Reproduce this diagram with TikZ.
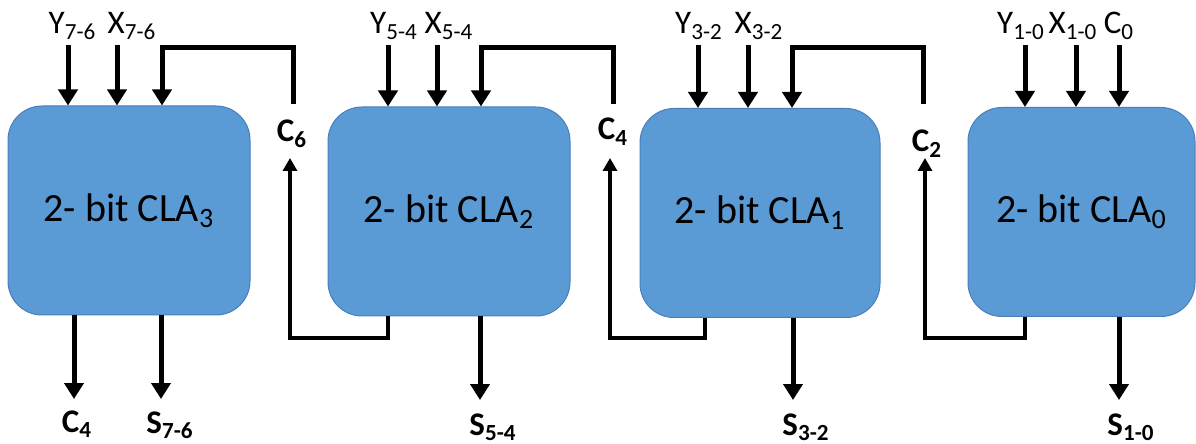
\documentclass[tikz,border=0pt]{standalone}
\usepackage{fontspec}
\setmainfont{Carlito}
\usetikzlibrary{arrows.meta,calc}
\definecolor{clablue}{HTML}{5B9BD5}
\definecolor{claedge}{HTML}{4A7EBB}
\begin{document}
\begin{tikzpicture}[x=0.5pt,y=-0.5pt,
  cla/.style={draw=claedge, fill=clablue, line width=0.5pt, rounded corners=17pt,
    minimum height=104.5pt, inner sep=0pt, font=\fontsize{20}{24}\selectfont},
  lab/.style={inner sep=0pt, anchor=base, font=\fontsize{16.5}{19}\selectfont},
  blab/.style={inner sep=0pt, anchor=base, font=\bfseries\fontsize{16.5}{19}\selectfont},
  arr/.style={line width=2.5pt, -{Triangle[width=9.5pt,length=8pt]}},
  loopwire/.style={line width=1.8pt, -{Triangle[width=7pt,length=6.5pt]}},
]
\useasboundingbox (0,0) rectangle (1196,444);

% blocks
\node[cla, minimum width=121pt]   (b3) at (129,210.5)  {2- bit CLA\textsubscript{3}};
\node[cla, minimum width=121pt]   (b2) at (449,211.5)  {2- bit CLA\textsubscript{2}};
\node[cla, minimum width=120pt]   (b1) at (760,213)    {2- bit CLA\textsubscript{1}};
\node[cla, minimum width=113.5pt] (b0) at (1081.5,212) {2- bit CLA\textsubscript{0}};

% top input labels
\node[lab] (ly3) at (72.5,34) {Y\textsubscript{7-6}};
\node[lab] (lx3) at (132,34)  {X\textsubscript{7-6}};
\node[lab] (ly2) at (394,34)  {Y\textsubscript{5-4}};
\node[lab] (lx2) at (449,34)  {X\textsubscript{5-4}};
\node[lab] (ly1) at (699,34)  {Y\textsubscript{3-2}};
\node[lab] (lx1) at (759,34)  {X\textsubscript{3-2}};
\node[lab] (ly0) at (1021,34) {Y\textsubscript{1-0}};
\node[lab] (lx0) at (1073,34) {X\textsubscript{1-0}};
\node[lab] (lc0) at (1119,34) {C\textsubscript{0}};

% input arrow starts
\coordinate (ty3) at (68,45);   \coordinate (tx3) at (117,45);
\coordinate (ty2) at (388,45);  \coordinate (tx2) at (437,45);
\coordinate (ty1) at (698,45);  \coordinate (tx1) at (748,45);
\coordinate (ty0) at (1025,45); \coordinate (tx0) at (1076,45); \coordinate (tc0) at (1119,45);

\foreach \t/\b in {ty3/b3,tx3/b3,ty2/b2,tx2/b2,ty1/b1,tx1/b1,ty0/b0,tx0/b0,tc0/b0}
  \draw[arr] (\t) -- (\t |- \b.north);

% carry labels between blocks
\node[blab] (c6) at (292,142) {C\textsubscript{6}};
\node[blab] (c4m) at (613,140) {C\textsubscript{4}};
\node[blab] (c2) at (927,152) {C\textsubscript{2}};

% carry feedback into top of block
\coordinate (c6t) at (293,104); \coordinate (f3) at (162,48);
\coordinate (c4t) at (613,104); \coordinate (f2) at (481,48);
\coordinate (c2t) at (923,104); \coordinate (f1) at (792,48);
\draw[arr] (c6t) |- (f3) -- (f3 |- b3.north);
\draw[arr] (c4t) |- (f2) -- (f2 |- b2.north);
\draw[arr] (c2t) |- (f1) -- (f1 |- b1.north);

% carry out of block, looping back up to carry label
\coordinate (c6b) at (290,158); \coordinate (l2) at (388,338);
\coordinate (c4b) at (610,158); \coordinate (l1) at (705,338);
\coordinate (c2b) at (925,158); \coordinate (l0) at (1025,338);
\draw[loopwire] (l2 |- b2.south) -- (l2) -| (c6b);
\draw[loopwire] (l1 |- b1.south) -- (l1) -| (c4b);
\draw[loopwire] (l0 |- b0.south) -- (l0) -| (c2b);

% outputs
\coordinate (oc4) at (74,399);  \coordinate (os3) at (161,399);
\coordinate (os2) at (480,400); \coordinate (os1) at (793,400);
\coordinate (os0) at (1119,400);
\draw[arr] (oc4 |- b3.south) -- (oc4);
\draw[arr] (os3 |- b3.south) -- (os3);
\draw[arr] (os2 |- b2.south) -- (os2);
\draw[arr] (os1 |- b1.south) -- (os1);
\draw[arr] (os0 |- b0.south) -- (os0);

\node[blab] (lc4) at (77,432)   {C\textsubscript{4}};
\node[blab] (ls3) at (170,433)  {S\textsubscript{7-6}};
\node[blab] (ls2) at (493,435)  {S\textsubscript{5-4}};
\node[blab] (ls1) at (806,435)  {S\textsubscript{3-2}};
\node[blab] (ls0) at (1131,435) {S\textsubscript{1-0}};
\end{tikzpicture}
\end{document}
